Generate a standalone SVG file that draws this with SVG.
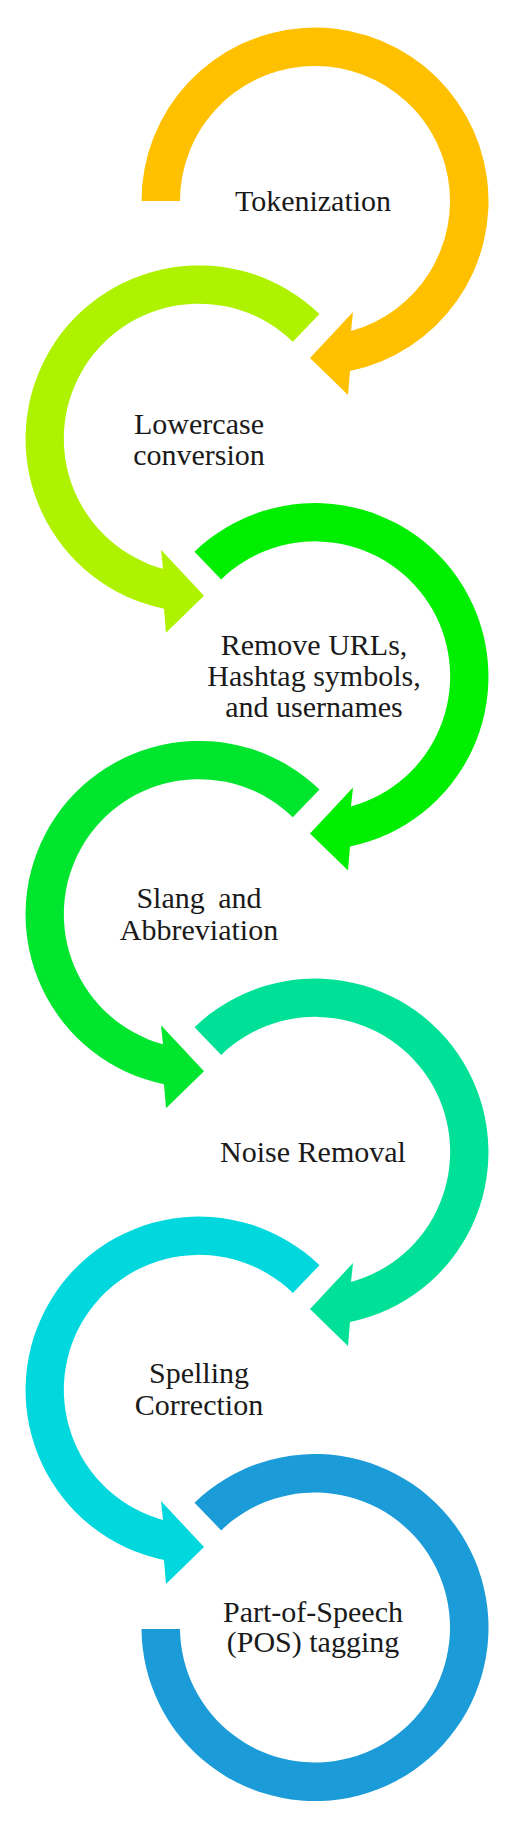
<svg xmlns="http://www.w3.org/2000/svg" width="510" height="1833" viewBox="0 0 510 1833">
<style>
.lbl{font-family:"Liberation Serif","Times New Roman",serif;font-size:30px;fill:#1a1a1a;text-anchor:middle}
</style>
<rect width="510" height="1833" fill="#ffffff"/>
<g id="connectors">
<path id="arc1" fill="#FFC000" d="M 141.5 201 A 173.5 173.5 0 1 1 350 371 L 348 395 L 310 358 L 353 312 L 351 331 A 135 135 0 1 0 180 201 Z"/>
<path id="arc2" fill="#AEF200" d="M 319.5 314 A 173.5 173.5 0 1 0 164 608.8 L 166 632.8 L 204 595.8 L 161 549.8 L 163 568.8 A 135 135 0 1 1 292.8 341.7 Z"/>
<path id="arc3" fill="#00EE00" d="M 194.5 551.7 A 173.5 173.5 0 1 1 350 846.5 L 348 870.5 L 310 833.5 L 353 787.5 L 351 806.5 A 135 135 0 1 0 221.2 579.4 Z"/>
<path id="arc4" fill="#00E52E" d="M 319.5 789.5 A 173.5 173.5 0 1 0 164 1084.3 L 166 1108.3 L 204 1071.3 L 161 1025.3 L 163 1044.3 A 135 135 0 1 1 292.8 817.2 Z"/>
<path id="arc5" fill="#00E096" d="M 194.5 1027.2 A 173.5 173.5 0 1 1 350 1322 L 348 1346 L 310 1309 L 353 1263 L 351 1282 A 135 135 0 1 0 221.2 1054.9 Z"/>
<path id="arc6" fill="#00D8DE" d="M 319.5 1265.2 A 173.5 173.5 0 1 0 164 1560 L 166 1584 L 204 1547 L 161 1501 L 163 1520 A 135 135 0 1 1 292.8 1292.9 Z"/>
<path id="arc7" fill="#1B9CD8" d="M 194.5 1502.7 A 173.5 173.5 0 1 1 141.5 1629 L 180 1629 A 135 135 0 1 0 221.2 1530.4 Z"/>
</g>
<g id="node-tokenization">
<text class="lbl" x="313" y="211">Tokenization</text>
</g>
<g id="node-lowercase">
<text class="lbl" x="199" y="434">Lowercase</text>
<text class="lbl" x="199" y="465">conversion</text>
</g>
<g id="node-remove">
<text class="lbl" x="314" y="655">Remove URLs,</text>
<text class="lbl" x="314" y="686">Hashtag symbols,</text>
<text class="lbl" x="314" y="717">and usernames</text>
</g>
<g id="node-slang">
<text class="lbl" x="199" y="908" word-spacing="6">Slang and</text>
<text class="lbl" x="199" y="940">Abbreviation</text>
</g>
<g id="node-noise">
<text class="lbl" x="313" y="1162">Noise Removal</text>
</g>
<g id="node-spelling">
<text class="lbl" x="199" y="1383">Spelling</text>
<text class="lbl" x="199" y="1415">Correction</text>
</g>
<g id="node-pos">
<text class="lbl" x="313" y="1622">Part-of-Speech</text>
<text class="lbl" x="313" y="1652">(POS) tagging</text>
</g>
</svg>
